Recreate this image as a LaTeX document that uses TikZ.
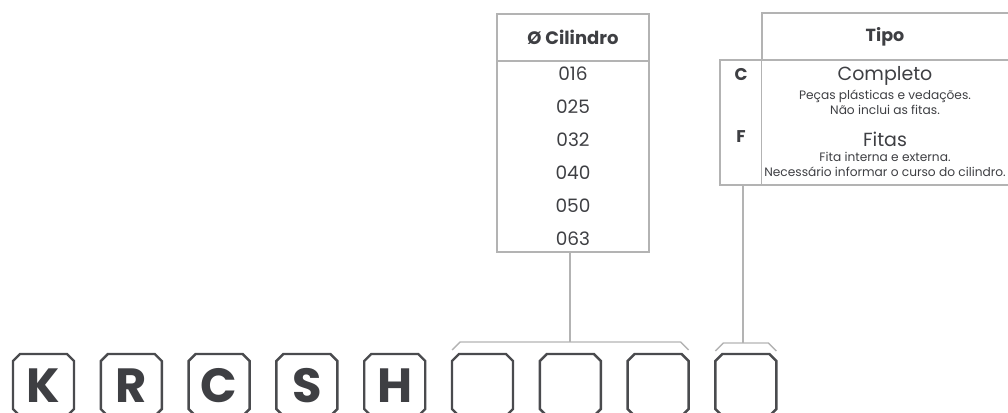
\documentclass[tikz,border=0pt]{standalone}
\usepackage{fontspec}
\setmainfont{Poppins}
\definecolor{ink}{HTML}{3E3F43}
\definecolor{edge}{HTML}{4A4B4E}
\definecolor{rule}{HTML}{B3B3B3}
\tikzset{
  letter/.style={inner sep=0pt, text=ink, text height=34pt, text depth=0pt,
    font=\fontsize{48}{48}\selectfont\bfseries},
  boxline/.style={draw=edge, line width=2.4pt},
  grayline/.style={draw=rule, line width=1.4pt},
  cell/.style={text=ink, inner sep=0pt, align=center},
}
\begin{document}
\begin{tikzpicture}[x=1pt,y=-1pt]
\useasboundingbox (0,0) rectangle (1008,412);
\clip (0,0) rectangle (1008,412);

% cylinder table
\node[grayline, minimum width=152pt, minimum height=238pt, inner sep=0pt] (cyl) at (573,133) {};
\draw[grayline] (cyl.west |- 0,61) -- (cyl.east |- 0,61);
\node[cell, font=\fontsize{18}{18}\selectfont\bfseries] (cyltitle) at (573,37) {Ø Cilindro};
\foreach \d [count=\i] in {016,025,032,040,050,063}
  \node[cell, font=\fontsize{18.5}{18.5}\selectfont] (d\i) at (573,41+33*\i) {\d};

% tipo table
\node[grayline, minimum width=250pt, minimum height=47pt, inner sep=0pt] (tipohead) at (887,36.5) {};
\node[grayline, minimum width=292pt, minimum height=125pt, inner sep=0pt] (tipobody) at (866,122.5) {};
\draw[grayline] (tipohead.south west) -- (tipohead.south west |- tipobody.south);
\node[cell, font=\fontsize{17.5}{17.5}\selectfont\bfseries] (tipotitle) at (885,37) {Tipo};
\node[cell, font=\fontsize{17}{17}\selectfont\bfseries] (kc) at (741,75) {C};
\node[cell, font=\fontsize{17}{17}\selectfont\bfseries] (kf) at (741,137) {F};
\node[cell, font=\fontsize{19}{19}\selectfont] (comp) at (885,76) {Completo};
\node[cell, font=\fontsize{12.2}{15}\selectfont] (compinfo) at (885,102.5) {Peças plásticas e vedações.\\Não inclui as fitas.};
\node[cell, font=\fontsize{19}{19}\selectfont] (fit) at (885,139) {Fitas};
\node[cell, font=\fontsize{12.2}{15}\selectfont] (fitinfo) at (885,164.5) {Fita interna e externa.\\Necessário informar o curso do cilindro.};

% code boxes
\foreach \t [count=\i] in {K,R,C,S,H,{},{},{},{}}{
  \coordinate (c\i) at (43.5+87.8*\i-87.8,385);
  \node[letter] (b\i) at (c\i) {\t};
  \draw[boxline] (c\i) ++(-30.5,-24) -- ++(7,-7) -- ++(47,0) -- ++(7,7)
    -- ++(0,48) -- ++(-7,7) -- ++(-47,0) -- ++(-7,-7) -- cycle;
}

% brackets
\coordinate (l1) at ([shift={(-30.5,-35)}]c6);
\coordinate (r1) at ([shift={(30.5,-35)}]c8);
\coordinate (l2) at ([shift={(-30.5,-34)}]c9);
\coordinate (r2) at ([shift={(30.5,-34)}]c9);
\coordinate (br1) at (570,342);
\coordinate (br2) at (743,343);
\draw[grayline] (l1) -- ++(8,-8) -- ([shift={(-8,-8)}]r1) -- (r1);
\draw[grayline] (l2) -- ++(8,-8) -- ([shift={(-8,-8)}]r2) -- (r2);
\draw[grayline] (cyl.south -| br1) -- (br1);
\draw[grayline] (tipobody.south -| br2) -- (br2);
\end{tikzpicture}
\end{document}
